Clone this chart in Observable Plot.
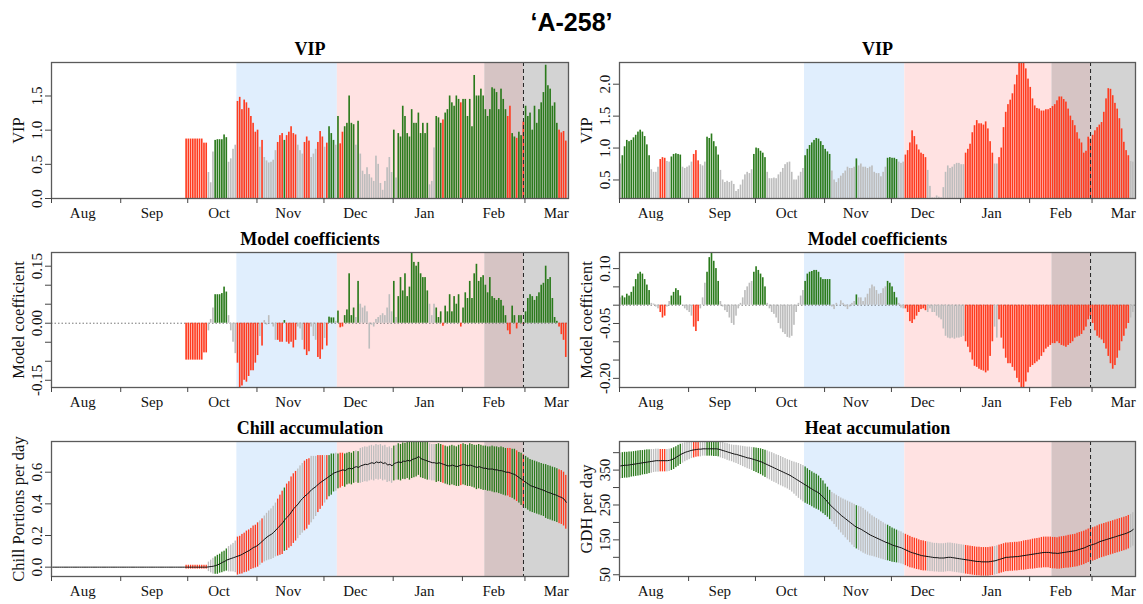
<!DOCTYPE html>
<html><head><meta charset="utf-8">
<script src="https://cdn.jsdelivr.net/npm/d3@7"></script>
<script src="https://cdn.jsdelivr.net/npm/@observablehq/plot@0.6"></script>
<style>
body{margin:0;background:#fff;}
#root{position:relative;width:1143px;height:604px;overflow:hidden;}
#title{position:absolute;top:9px;left:0;width:1143px;text-align:center;font:bold 25px "Liberation Sans",Arial,sans-serif;line-height:26px;color:#000;}
</style></head><body><div id="root"><div id="title">‘A-258’</div></div>
<script>
// ---------- data (one value per day) ----------
const DAY = 864e5;
const seasonStart = Date.UTC(2001, 7, 1);       // Aug 1
const seasonEnd = Date.UTC(2002, 2, 20, 12);    // right edge of the x axis
const leftVipStart = Date.UTC(2001, 8, 30);     // first day with VIP/coefficients (left column)

const chillPhase = [Date.UTC(2001, 9, 23), Date.UTC(2001, 11, 7)];
const forcingPhase = [Date.UTC(2001, 11, 7), Date.UTC(2002, 1, 28, 8)];
const bloomRange = [Date.UTC(2002, 1, 11), seasonEnd];
const bloomMedian = Date.UTC(2002, 1, 28, 8);

const monthNames = ["Aug","Sep","Oct","Nov","Dec","Jan","Feb","Mar"];
const monthStarts = [[2001,7],[2001,8],[2001,9],[2001,10],[2001,11],[2002,0],[2002,1],[2002,2]];

const vipThreshold = 0.8;

// Left column: VIP (from Sep 30)
const vipL = [
0.87,0.87,0.87,0.87,0.87,0.87,0.87,0.87,0.81,0.81,
0.38,0.23,0.68,0.85,0.86,0.86,0.86,0.93,0.89,0.53,
0.58,0.72,0.78,1.42,1.48,1.30,1.44,1.40,1.32,1.20,
1.10,0.97,1.00,0.75,0.85,0.60,0.55,0.52,0.53,0.56,
0.70,0.82,0.92,0.95,0.85,0.92,0.97,1.05,0.95,0.93,
0.78,0.70,0.65,0.82,0.90,0.84,0.60,0.65,0.72,0.82,
0.98,0.90,0.75,0.81,1.05,0.95,0.85,0.78,1.20,0.80,
0.97,1.05,1.10,1.50,1.10,1.08,0.78,1.13,0.65,0.40,
0.35,0.45,0.35,0.30,0.25,0.62,0.50,0.22,0.12,0.25,
0.45,0.60,0.38,1.00,0.30,0.95,0.90,1.35,1.20,0.95,
0.90,1.30,1.10,1.10,1.25,0.95,1.10,0.95,1.10,0.20,
0.25,0.74,1.20,1.18,1.10,1.15,1.25,1.30,1.50,1.40,
1.35,1.50,1.45,1.40,1.45,1.45,1.20,1.45,1.05,1.80,
1.50,1.50,1.60,1.50,1.30,1.20,1.30,1.62,1.60,1.55,
1.30,1.60,1.45,1.30,1.20,1.35,0.95,0.90,0.88,0.97,
0.92,1.12,1.35,1.20,1.25,1.00,1.35,1.10,1.30,1.40,
1.55,1.95,1.65,1.60,1.35,1.40,1.10,1.00,0.96,0.98,
0.84];

// Left column: model coefficients (from Sep 30)
const coefL = [
-0.097,-0.097,-0.097,-0.097,-0.097,-0.097,-0.097,-0.097,-0.078,-0.078,
-0.02,0.01,0.04,0.075,0.075,0.075,0.078,0.095,0.082,0.02,
-0.02,-0.05,-0.08,-0.105,-0.169,-0.165,-0.15,-0.155,-0.14,-0.125,
-0.125,-0.105,-0.085,-0.035,-0.06,0.007,-0.005,0.02,0.0,-0.01,
-0.045,-0.045,-0.05,-0.05,0.007,-0.05,-0.055,-0.05,-0.065,-0.045,
-0.01,-0.015,-0.045,-0.07,-0.085,-0.075,-0.01,-0.035,-0.045,-0.09,
-0.095,-0.07,-0.04,-0.06,0.016,0.014,0.014,0.005,0.032,-0.012,
-0.01,0.02,0.035,0.13,0.02,0.04,0.015,0.11,0.05,0.04,
0.045,0.03,-0.068,-0.005,-0.01,0.01,0.015,0.02,0.025,0.02,
0.04,0.075,0.03,0.11,0.015,0.07,0.12,0.085,0.13,0.07,
0.095,0.186,0.16,0.15,0.16,0.13,0.12,0.12,0.085,0.05,
0.02,0.05,0.04,0.015,0.03,-0.008,0.045,0.03,0.075,0.03,
0.07,0.05,0.075,-0.01,0.04,0.08,0.065,0.11,0.065,0.13,
0.155,0.11,0.12,0.125,0.10,0.08,0.12,0.07,0.065,0.06,
0.065,0.06,0.045,0.02,-0.02,-0.03,0.045,0.02,-0.015,0.02,
0.02,-0.003,0.03,0.065,0.075,0.07,0.06,0.07,0.08,0.10,
0.105,0.15,0.115,0.12,0.065,0.015,0.005,-0.01,-0.03,-0.045,
-0.09];

// Left column: chill portions per day, mean and sd (from Aug 1)
const chillMean = [
0,0,0,0,0,0,0,0,0,0,
0,0,0,0,0,0,0,0,0,0,
0,0,0,0,0,0,0,0,0,0,
0,0,0,0,0,0,0,0,0,0,
0,0,0,0,0,0,0,0,0,0,
0,0,0,0,0,0,0,0,0,0,
0,0,0,0,0,0,0,0,0,0,
0.002,0.004,0.006,0.01,0.015,0.022,0.03,0.036,0.045,0.05,
0.055,0.06,0.065,0.07,0.075,0.082,0.09,0.098,0.105,0.115,
0.125,0.13,0.14,0.152,0.165,0.178,0.19,0.2,0.208,0.22,
0.235,0.25,0.265,0.28,0.3,0.315,0.33,0.35,0.37,0.385,
0.4,0.42,0.435,0.45,0.46,0.475,0.49,0.5,0.51,0.525,
0.535,0.545,0.555,0.565,0.575,0.585,0.595,0.6,0.605,0.61,
0.615,0.61,0.62,0.625,0.62,0.63,0.635,0.63,0.64,0.645,
0.65,0.648,0.655,0.66,0.655,0.665,0.66,0.665,0.655,0.66,
0.645,0.65,0.64,0.655,0.66,0.665,0.66,0.67,0.668,0.675,
0.67,0.68,0.685,0.69,0.7,0.685,0.68,0.675,0.67,0.665,
0.66,0.66,0.655,0.66,0.655,0.65,0.645,0.64,0.64,0.645,
0.64,0.635,0.64,0.645,0.65,0.645,0.64,0.645,0.64,0.635,
0.63,0.635,0.63,0.625,0.625,0.62,0.62,0.62,0.615,0.615,
0.61,0.61,0.605,0.6,0.6,0.595,0.59,0.585,0.575,0.565,
0.555,0.545,0.535,0.525,0.515,0.51,0.505,0.5,0.495,0.49,
0.485,0.478,0.472,0.468,0.462,0.458,0.452,0.445,0.44,0.43,
0.41];
const chillSd = [
0,0,0,0,0,0,0,0,0,0,
0,0,0,0,0,0,0,0,0,0,
0,0,0,0,0,0,0,0,0,0,
0,0,0,0,0,0,0,0,0,0,
0,0,0,0,0,0,0,0,0,0,
0,0,0,0,0,0,0,0,0,0,
0.012,0.012,0.012,0.012,0.012,0.012,0.012,0.012,0.012,0.012,
0.03,0.04,0.05,0.055,0.06,0.06,0.065,0.065,0.07,0.08,
0.085,0.09,0.1,0.12,0.12,0.125,0.125,0.13,0.13,0.13,
0.135,0.135,0.14,0.14,0.14,0.145,0.15,0.155,0.16,0.165,
0.17,0.18,0.19,0.2,0.2,0.21,0.21,0.22,0.22,0.22,
0.22,0.22,0.22,0.22,0.22,0.21,0.21,0.2,0.19,0.18,
0.17,0.16,0.15,0.14,0.13,0.13,0.12,0.12,0.11,0.11,
0.105,0.105,0.1,0.1,0.1,0.1,0.1,0.1,0.11,0.11,
0.11,0.11,0.11,0.11,0.11,0.11,0.11,0.11,0.11,0.11,
0.11,0.11,0.11,0.11,0.11,0.115,0.115,0.115,0.115,0.115,
0.12,0.12,0.12,0.12,0.12,0.12,0.12,0.12,0.12,0.115,
0.115,0.115,0.12,0.12,0.12,0.12,0.12,0.12,0.125,0.125,
0.125,0.125,0.13,0.13,0.13,0.13,0.13,0.135,0.135,0.135,
0.14,0.14,0.14,0.14,0.14,0.14,0.14,0.145,0.145,0.145,
0.145,0.15,0.15,0.15,0.15,0.155,0.155,0.16,0.16,0.16,
0.165,0.165,0.165,0.165,0.165,0.165,0.165,0.165,0.165,0.165,
0.165,0.17,0.17,0.17,0.17,0.17,0.17,0.17,0.17,0.17,
0.17];

// Right column: VIP (from Aug 1)
const vipR = [
0.75,0.88,1.02,1.12,1.10,1.12,1.16,1.20,1.25,1.28,
1.25,1.18,1.05,0.88,0.66,0.62,0.62,0.70,0.82,0.85,
0.84,0.79,0.78,0.86,0.90,0.91,0.90,0.89,0.70,0.68,
0.70,0.72,0.78,0.90,0.96,0.80,0.74,0.72,0.78,1.17,
1.15,1.22,1.10,1.02,0.89,0.65,0.50,0.46,0.48,0.46,
0.48,0.43,0.32,0.35,0.42,0.50,0.58,0.62,0.60,0.66,
0.90,1.00,0.99,0.95,0.92,0.85,0.62,0.52,0.52,0.53,
0.52,0.58,0.62,0.68,0.74,0.77,0.78,0.62,0.50,0.50,
0.56,0.62,0.68,0.88,0.98,1.04,1.08,1.12,1.15,1.14,
1.10,1.04,0.98,0.94,0.90,0.64,0.50,0.46,0.52,0.56,
0.60,0.64,0.70,0.68,0.68,0.70,0.83,0.72,0.75,0.70,
0.70,0.68,0.70,0.72,0.62,0.60,0.60,0.55,0.62,0.70,
0.84,0.85,0.84,0.84,0.82,0.78,0.76,0.78,0.89,0.96,
1.08,1.27,1.18,1.05,0.97,0.92,0.90,0.85,0.65,0.40,
0.22,0.22,0.25,0.23,0.22,0.38,0.62,0.72,0.68,0.70,
0.74,0.76,0.76,0.74,0.74,0.92,0.98,1.06,1.24,1.35,
1.43,1.38,1.38,1.36,1.41,1.30,1.10,0.92,0.75,0.75,
0.85,1.00,1.32,1.56,1.68,1.75,1.85,1.99,2.14,2.38,
2.38,2.38,2.24,2.08,1.95,1.77,1.66,1.62,1.61,1.58,
1.58,1.60,1.60,1.62,1.65,1.68,1.74,1.80,1.80,1.76,
1.72,1.61,1.50,1.43,1.35,1.24,1.14,1.08,0.92,0.95,
1.17,1.14,1.20,1.27,1.32,1.36,1.40,1.56,1.77,1.93,
1.92,1.82,1.70,1.61,1.46,1.30,1.09,0.96,0.88,0.79,
0.78];

// Right column: model coefficients (from Aug 1)
const coefR = [
0.02,0.025,0.02,0.03,0.025,0.035,0.05,0.07,0.085,0.09,
0.085,0.07,0.055,0.04,0.005,0.003,-0.005,-0.01,-0.02,-0.035,
-0.03,-0.005,0.01,0.025,0.035,0.045,0.04,0.025,0.0,-0.01,
-0.015,-0.02,-0.03,-0.06,-0.072,-0.045,-0.01,0.02,0.06,0.09,
0.13,0.142,0.12,0.10,0.065,0.01,-0.005,-0.015,-0.02,-0.035,
-0.05,-0.055,-0.03,-0.01,0.005,0.02,0.04,0.05,0.06,0.065,
0.09,0.105,0.095,0.085,0.075,0.05,0.005,-0.01,-0.02,-0.025,
-0.035,-0.05,-0.065,-0.075,-0.08,-0.088,-0.09,-0.085,-0.055,-0.02,
0.005,0.025,0.04,0.065,0.085,0.09,0.092,0.095,0.095,0.09,
0.075,0.07,0.07,0.07,0.07,-0.005,-0.012,0.005,0.0,0.012,
0.005,-0.005,-0.012,-0.005,0.005,0.01,0.028,0.02,0.02,0.01,
0.02,0.03,0.045,0.055,0.05,0.04,0.03,0.032,0.045,0.05,
0.065,0.06,0.05,0.035,0.02,0.005,-0.008,-0.01,-0.01,-0.02,
-0.045,-0.05,-0.04,-0.03,-0.02,-0.012,-0.01,-0.015,-0.02,-0.01,
-0.02,-0.02,-0.03,-0.035,-0.04,-0.065,-0.085,-0.09,-0.092,-0.09,
-0.093,-0.09,-0.09,-0.088,-0.085,-0.10,-0.115,-0.13,-0.15,-0.167,
-0.17,-0.175,-0.178,-0.18,-0.185,-0.18,-0.14,-0.10,-0.06,-0.09,
-0.04,-0.09,-0.12,-0.145,-0.16,-0.16,-0.17,-0.18,-0.20,-0.212,
-0.225,-0.225,-0.21,-0.185,-0.17,-0.165,-0.16,-0.155,-0.15,-0.14,
-0.13,-0.12,-0.115,-0.11,-0.105,-0.105,-0.10,-0.105,-0.11,-0.112,
-0.115,-0.11,-0.105,-0.10,-0.09,-0.087,-0.085,-0.08,-0.07,-0.06,
-0.04,-0.03,-0.05,-0.07,-0.085,-0.09,-0.095,-0.105,-0.12,-0.14,
-0.16,-0.175,-0.165,-0.145,-0.125,-0.10,-0.085,-0.065,-0.05,-0.035,
-0.02];

// Right column: growing degree hours per day, mean and sd (from Aug 1)
const heatMean = [
362,363,364,364,365,366,367,368,369,370,
371,372,373,374,375,376,377,377,377,377,
377,377,378,380,383,387,391,395,398,401,
403,405,407,408,409,410,410,411,411,411,
411,411,411,411,410,408,406,404,402,400,
398,396,395,393,391,389,387,385,384,382,
380,378,376,374,371,368,365,362,359,356,
353,350,347,344,341,338,335,331,327,323,
319,315,311,307,303,299,295,291,288,284,
278,272,265,258,250,244,238,232,226,220,
215,210,205,200,195,190,186,183,180,176,
172,168,164,161,158,155,152,149,146,143,
141,138,135,133,131,129,127,124,121,118,
115,113,111,109,107,105,104,103,102,101,
100,99,99,98,98,98,99,100,100,99,
98,97,96,95,94,93,92,91,90,89,
88,88,87,87,87,87,88,89,90,92,
94,96,98,100,100,101,101,102,102,103,
104,105,106,107,108,109,110,111,112,113,
114,114,114,113,112,112,111,112,113,114,
115,116,117,118,119,121,123,125,127,130,
133,135,137,139,142,145,147,149,151,153,
155,157,159,161,163,165,167,169,172,175,
180];
const heatSd = [
37,37,37,37,37,36,36,36,36,36,
35,35,35,34,34,33,33,33,32,32,
32,32,32,31,31,30,30,29,28,27,
26,25,24,23,22,22,22,21,21,21,
21,21,22,22,22,23,23,23,24,24,
24,25,26,27,28,29,30,31,32,33,
34,35,36,37,38,39,40,40,41,41,
41,42,42,42,42,42,43,44,46,48,
50,51,52,52,51,50,50,50,50,49,
48,47,45,43,42,42,44,46,48,50,
52,54,56,58,60,62,62,63,64,64,
63,62,60,58,57,56,55,54,53,52,
51,50,49,48,47,46,46,45,45,45,
45,44,44,44,43,43,43,42,42,42,
41,41,41,41,41,41,41,41,41,41,
41,41,41,41,41,41,41,41,41,41,
41,41,41,41,41,41,41,41,41,41,
41,41,41,41,41,41,41,41,41,41,
41,42,42,42,42,43,43,43,43,44,
44,44,44,45,45,45,45,46,46,46,
46,47,47,47,47,48,48,48,48,48,
48,48,48,48,48,48,48,48,48,48,
48,48,48,48,48,48,48,48,48,48,
48];

// ---------- styling ----------
const RED = "#ff3b1f", GREEN = "#2a7a1b", GREY = "#bdbdbd";
const BLUE_BG = "#e0eefd", PINK_BG = "#ffe2e2", OVERLAP_BG = "#d6c4c4", GREY_BG = "#d3d3d3";
const SERIF = "'Liberation Serif', 'Times New Roman', serif";

function buildRows(vip, vipStart, coef, mean, sd) {
  const off = Math.round((vipStart - seasonStart) / DAY);
  return mean.map((m, i) => {
    const v = i >= off ? vip[i - off] : null;
    const c = i >= off ? coef[i - off] : null;
    const col = v == null ? GREY : (v >= vipThreshold ? (c < 0 ? RED : GREEN) : GREY);
    return {
      t0: new Date(seasonStart + i * DAY),
      t1: new Date(seasonStart + (i + 1) * DAY),
      tm: new Date(seasonStart + (i + 0.5) * DAY),
      vip: v, coef: c, mean: m, sd: sd[i], col
    };
  });
}
const leftRows = buildRows(vipL, leftVipStart, coefL, chillMean, chillSd);
const rightRows = buildRows(vipR, seasonStart, coefR, heatMean, heatSd);

const shades = [
  {a: chillPhase[0], b: chillPhase[1], c: BLUE_BG},
  {a: forcingPhase[0], b: bloomRange[0], c: PINK_BG},
  {a: bloomRange[0], b: forcingPhase[1], c: OVERLAP_BG},
  {a: forcingPhase[1], b: bloomRange[1], c: GREY_BG}
].map(s => ({a: new Date(s.a), b: new Date(s.b), c: s.c}));

const monthTicks = monthStarts.map(([y, m]) => new Date(Date.UTC(y, m, 1)));
const monthLabels = monthStarts.map(([y, m], i) => ({x: new Date(Date.UTC(y, m, 15)), label: monthNames[i]}));

const root = document.getElementById("root");

function panel(o) {
  const [y0, y1] = o.yDomain;
  const svg = Plot.plot({
    width: o.width, height: o.height,
    marginLeft: o.mL, marginRight: o.mR, marginTop: o.mT, marginBottom: o.mB,
    x: {type: "utc", domain: [new Date(seasonStart), new Date(seasonEnd)], axis: null},
    y: {domain: o.yDomain, axis: null},
    color: {type: "identity"},
    style: {fontFamily: SERIF, fontSize: "15px", color: "#111", background: "transparent", overflow: "visible"},
    marks: [
      Plot.rect(shades, {x1: "a", x2: "b", y1: () => y0, y2: () => y1, fill: "c"}),
      ...o.marks,
      Plot.ruleX([new Date(bloomMedian)], {stroke: "#222", strokeWidth: 1, strokeDasharray: "4,3"}),
      Plot.frame({stroke: "#5a5a5a", strokeWidth: 1.3}),
      Plot.axisX({ticks: monthTicks, tickSize: 5, tickFormat: () => "", stroke: "#444", label: null}),
      Plot.text(monthLabels, {x: "x", text: "label", frameAnchor: "bottom", lineAnchor: "middle", dy: 15, fontSize: 15, fill: "#111"}),
      Plot.axisY({ticks: o.yTicks, tickSize: 6, tickFormat: () => "", stroke: "#444", label: null}),
      Plot.text(o.yLabels, {y: d => d, text: o.yFmt, frameAnchor: "left", textAnchor: "middle", lineAnchor: "middle", dx: -14, rotate: -90, fontSize: 15, fill: "#111"}),
      Plot.text([o.yTitle], {frameAnchor: "left", textAnchor: "middle", lineAnchor: "middle", dx: -33, rotate: -90, fontSize: 16.5, fill: "#111"}),
      Plot.text([o.title], {frameAnchor: "top", lineAnchor: "middle", dy: -13, fontWeight: "bold", fontSize: 18, fill: "#000"})
    ]
  });
  svg.style.position = "absolute";
  svg.style.left = o.left + "px";
  svg.style.top = o.top + "px";
  root.appendChild(svg);
}

const cols = [
  {left: 0, width: 572, mL: 51, mR: 4, rows: leftRows},
  {left: 572, width: 571, mL: 47, mR: 8, rows: rightRows}
];
const rowsLayout = [
  {top: 36, height: 186, mT: 26, mB: 24},
  {top: 228, height: 186, mT: 24, mB: 27},
  {top: 416, height: 188, mT: 25, mB: 28}
];
const f1 = d => d.toFixed(1), f2 = d => d.toFixed(2), f0 = d => d.toFixed(0);

const vipSpec = [
  {yDomain: [0, 1.99], yTicks: [0, 0.5, 1, 1.5], yLabels: [0, 0.5, 1, 1.5], base: 0},
  {yDomain: [0.21, 2.34], yTicks: [0.5, 1, 1.5, 2], yLabels: [0.5, 1, 1.5, 2], base: 0.21}
];
const coefSpec = [
  {yDomain: [-0.169, 0.186], yTicks: [-0.15, -0.1, -0.05, 0, 0.05, 0.1, 0.15], yLabels: [-0.15, 0, 0.15]},
  {yDomain: [-0.225, 0.144], yTicks: [-0.2, -0.15, -0.1, -0.05, 0, 0.05, 0.1], yLabels: [-0.2, -0.05, 0.1]}
];
const accSpec = [
  {yDomain: [-0.059, 0.794], yTicks: [0, 0.2, 0.4, 0.6], yLabels: [0, 0.2, 0.4, 0.6], yFmt: f1, yTitle: "Chill Portions per day", title: "Chill accumulation"},
  {yDomain: [45, 432], yTicks: [50, 100, 150, 200, 250, 300, 350, 400], yLabels: [50, 150, 250, 350], yFmt: f0, yTitle: "GDH per day", title: "Heat accumulation"}
];

cols.forEach((c, k) => {
  const rows = c.rows;
  const L0 = rowsLayout[0], L1 = rowsLayout[1], L2 = rowsLayout[2];
  const vs = vipSpec[k];
  panel({...c, ...L0, ...vs, yFmt: f1, yTitle: "VIP", title: "VIP",
    marks: [
      Plot.rect(rows.filter(r => r.vip != null), {x1: "t0", x2: "t1", y1: () => vs.base, y2: "vip", fill: "col", insetLeft: 0.3, insetRight: 0.3, clip: true})
    ]});
  const cs = coefSpec[k];
  panel({...c, ...L1, ...cs, yFmt: f2, yTitle: "Model coefficient", title: "Model coefficients",
    marks: [
      Plot.ruleY([0], {stroke: "#777", strokeWidth: 1, strokeDasharray: "1.5,2"}),
      Plot.rect(rows.filter(r => r.coef != null), {x1: "t0", x2: "t1", y1: () => 0, y2: "coef", fill: "col", insetLeft: 0.3, insetRight: 0.3, clip: true})
    ]});
  const as = accSpec[k];
  panel({...c, ...L2, ...as,
    marks: [
      Plot.rect(rows.filter(r => r.sd > 0), {x1: "t0", x2: "t1", y1: r => r.mean - r.sd, y2: r => r.mean + r.sd, fill: "col", insetLeft: 0.45, insetRight: 0.45, clip: true}),
      Plot.line(rows, {x: "tm", y: "mean", stroke: "#111", strokeWidth: 1, clip: true})
    ]});
});
</script>
</body></html>
